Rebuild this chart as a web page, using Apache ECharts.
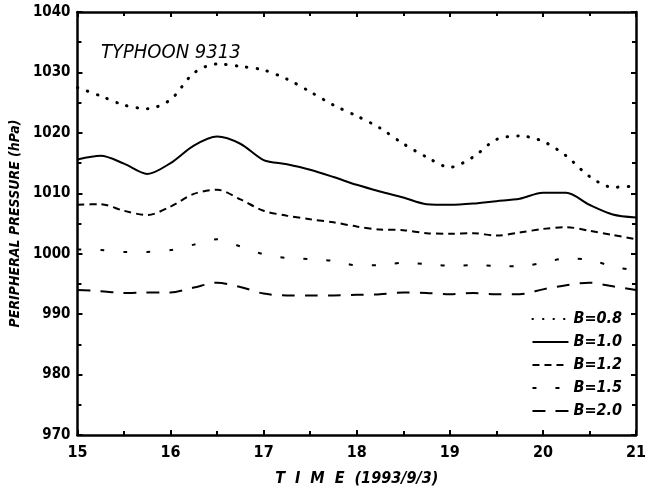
<!DOCTYPE html>
<html>
<head>
<meta charset="utf-8">
<script src="https://cdn.jsdelivr.net/npm/echarts@6/dist/echarts.min.js"></script>
<style>
  html, body { margin: 0; padding: 0; background: #fff; }
  #main { width: 649px; height: 496px; }
</style>
</head>
<body>
<div id="main"></div>
<script>
// 时间 (hour of 1993/9/3)
var hours = [15, 15.25, 15.5, 15.75, 16, 16.25, 16.5, 16.75, 17, 17.25, 17.5, 17.75,
             18, 18.25, 18.5, 18.75, 19, 19.25, 19.5, 19.75, 20, 20.25, 20.5, 20.75, 21];

// peripheral pressure (hPa) for each B
var b08 = [1027.5, 1026.1, 1024.6, 1024.0, 1025.5, 1029.9, 1031.4, 1031.0, 1030.4, 1028.9, 1026.8, 1024.6,
           1022.8, 1020.8, 1018.2, 1016.0, 1014.3, 1016.0, 1018.9, 1019.5, 1018.6, 1016.2, 1012.8, 1011.0, 1011.2];
var b10 = [1015.6, 1016.2, 1014.9, 1013.2, 1015.0, 1017.9, 1019.4, 1018.2, 1015.5, 1014.8, 1013.9, 1012.7,
           1011.4, 1010.3, 1009.3, 1008.2, 1008.1, 1008.3, 1008.7, 1009.1, 1010.1, 1010.1, 1008.1, 1006.5, 1006.0];
var b12 = [1008.1, 1008.2, 1007.1, 1006.4, 1007.8, 1009.9, 1010.6, 1009.0, 1007.1, 1006.3, 1005.7, 1005.2,
           1004.5, 1004.0, 1003.9, 1003.4, 1003.3, 1003.4, 1003.0, 1003.5, 1004.1, 1004.4, 1003.8, 1003.1, 1002.4];
var b15 = [1000.7, 1000.6, 1000.3, 1000.3, 1000.6, 1001.5, 1002.4, 1001.2, 999.9, 999.3, 999.1, 998.8,
           998.1, 998.1, 998.5, 998.3, 998.0, 998.1, 998.0, 997.9, 998.5, 999.2, 999.0, 997.9, 997.2];
var b20 = [994.0, 993.8, 993.5, 993.6, 993.6, 994.4, 995.2, 994.5, 993.4, 993.1, 993.1, 993.1,
           993.2, 993.3, 993.6, 993.5, 993.3, 993.5, 993.3, 993.3, 994.1, 994.8, 995.2, 994.6, 994.0];

var names = ['B=0.8', 'B=1.0', 'B=1.2', 'B=1.5', 'B=2.0'];
var values = [b08, b10, b12, b15, b20];
var dashes = [[0.5, 10], 'solid', [7, 5], [4, 19], [13, 10]];

var labelFont = "'DejaVu Sans Condensed', 'Liberation Sans Narrow', sans-serif";

function pairs(v) {
    return hours.map(function (h, i) { return [h, v[i]]; });
}

var series = names.map(function (n, i) {
    return {
        name: n,
        type: 'line',
        data: pairs(values[i]),
        smooth: 0.3,
        symbol: 'none',
        lineStyle: { color: '#000', width: i == 0 ? 3 : 2, type: dashes[i], cap: i == 0 ? 'round' : 'butt' },
        itemStyle: { color: '#000' }
    };
});

var tickStyle = { show: true, inside: true, length: 5, lineStyle: { color: '#000', width: 2 } };
var minorStyle = { show: true, splitNumber: 2, length: 4, lineStyle: { color: '#000', width: 2 } };

var myChart = echarts.init(document.getElementById('main'));
var option = {
    backgroundColor: '#fff',
    animation: false,
    title: {
        text: 'TYPHOON 9313',
        left: 96, top: 38,
        textStyle: { fontFamily: labelFont, fontStyle: 'italic', fontWeight: 'normal', fontSize: 20, color: '#000' }
    },
    legend: {
        data: names,
        orient: 'vertical',
        right: 22, top: 306,
        itemGap: 7,
        itemWidth: 36, itemHeight: 14,
        itemStyle: { opacity: 0 },
        textStyle: { fontFamily: labelFont, fontStyle: 'italic', fontWeight: 'bold', fontSize: 16, color: '#000' }
    },
    grid: { left: 73, right: 3, top: 12, bottom: 61 },
    xAxis: [{
        type: 'value', min: 15, max: 21, interval: 1,
        name: 'T  I  M  E  (1993/9/3)', nameLocation: 'middle', nameGap: 36,
        nameTextStyle: { fontFamily: labelFont, fontStyle: 'italic', fontWeight: 'bold', fontSize: 16, color: '#000' },
        axisLine: { lineStyle: { color: '#000', width: 2.5 } },
        axisTick: tickStyle, minorTick: minorStyle,
        axisLabel: { fontFamily: labelFont, fontWeight: 'bold', fontSize: 16, color: '#000', margin: 10 },
        splitLine: { show: false }
    }, {
        type: 'value', min: 15, max: 21, interval: 1, position: 'top',
        axisLine: { lineStyle: { color: '#000', width: 2.5 } },
        axisTick: tickStyle, minorTick: minorStyle,
        axisLabel: { show: false }, splitLine: { show: false }
    }],
    yAxis: [{
        type: 'value', min: 970, max: 1040, interval: 10,
        name: 'PERIPHERAL PRESSURE (hPa)', nameLocation: 'middle', nameGap: 50,
        nameTextStyle: { fontFamily: labelFont, fontStyle: 'italic', fontWeight: 'bold', fontSize: 14, color: '#000' },
        axisLine: { show: true, lineStyle: { color: '#000', width: 2.5 } },
        axisTick: tickStyle, minorTick: minorStyle,
        axisLabel: {
            fontFamily: labelFont, fontWeight: 'bold', fontSize: 15, color: '#000', margin: 7,
            formatter: function (v) { return String(v); }
        },
        splitLine: { show: false }
    }, {
        type: 'value', min: 970, max: 1040, interval: 10, position: 'right',
        axisLine: { show: true, lineStyle: { color: '#000', width: 2.5 } },
        axisTick: tickStyle, minorTick: minorStyle,
        axisLabel: { show: false }, splitLine: { show: false }
    }],
    series: series
};
myChart.setOption(option);
</script>
</body>
</html>
